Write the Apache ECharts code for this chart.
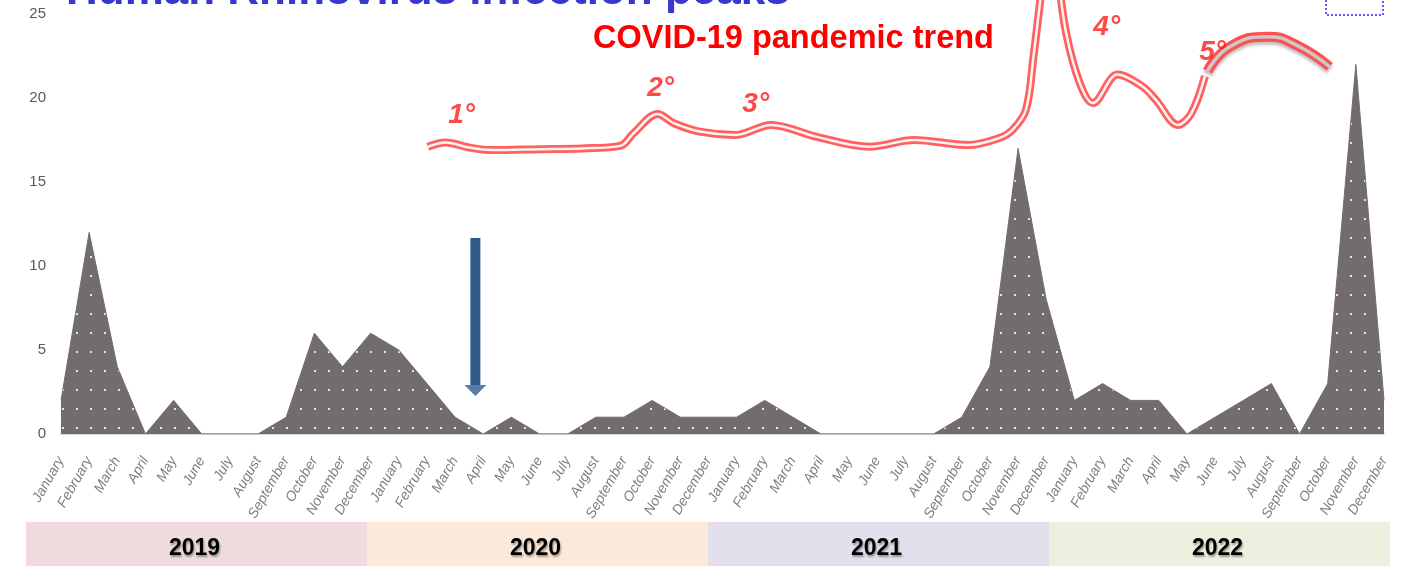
<!DOCTYPE html>
<html>
<head>
<meta charset="utf-8">
<script src="https://cdn.jsdelivr.net/npm/echarts@6/dist/echarts.min.js"></script>
<style>
  html, body { margin: 0; padding: 0; background: #fff; }
  #chart { width: 1401px; height: 566px; }
</style>
</head>
<body>
<div id="chart"></div>
<script>
var monthNames = ['January', 'February', 'March', 'April', 'May', 'June', 'July',
  'August', 'September', 'October', 'November', 'December'];
var years = ['2019', '2020', '2021', '2022'];
var yearColors = ['#efdbdb', '#fde9d9', '#e4dfec', '#ebf1de'];
var months = [];
years.forEach(function () { months = months.concat(monthNames); });

// monthly HRV infections, Jan 2019 .. Dec 2022
var hrvCases = [2, 12, 4, 0, 2, 0, 0, 0, 1, 6, 4, 6,
  5, 3, 1, 0, 1, 0, 0, 1, 1, 2, 1, 1,
  1, 2, 1, 0, 0, 0, 0, 0, 1, 4, 17, 8,
  2, 3, 2, 2, 0, 1, 2, 3, 0, 3, 22, 2];

// covid trend sketch, [month index, level]
var covidTrend = [[13.03, 17.1], [13.67, 17.35], [14.5, 17.05], [15.3, 16.9], [17, 16.95],
  [18.5, 17.0], [19.87, 17.15], [20.34, 17.9], [21.2, 19.05], [21.77, 18.5], [22.69, 18.0],
  [23.96, 17.8], [25.23, 18.4], [26.82, 17.7], [28.72, 17.1], [30.31, 17.5], [32.22, 17.2],
  [33.3, 17.6], [33.8, 18.1], [34.28, 19.3], [34.55, 22.5], [34.92, 27.5], [35.15, 29.5],
  [35.39, 27.5], [35.71, 23.85], [36.19, 20.9], [36.66, 19.7], [37.54, 21.4], [38.41, 20.7],
  [38.89, 19.9], [39.68, 18.4], [40.16, 19.1], [40.64, 21.3]];
var covidArc = [[40.73, 21.6], [41.52, 23.05], [42.88, 23.65], [43.89, 23.15], [45.07, 21.86]];

var waveLabels = ['1°', '2°', '3°', '4°', '5°'];
var wavePos = [[14.23, 19.0], [21.3, 20.6], [24.68, 19.6], [37.15, 24.2], [40.91, 22.75]];

var arrowX = 14.72;
var arrowTop = 11.67, arrowBase = 2.92, arrowHead = 2.59;

function dotPattern() {
  var c = document.createElement('canvas');
  c.width = 14;
  c.height = 19;
  var ctx = c.getContext('2d');
  ctx.fillStyle = '#726d6c';
  ctx.fillRect(0, 0, 14, 19);
  ctx.fillStyle = '#e4e4e4';
  ctx.fillRect(6, 9, 2, 2);
  return c;
}

var chart = echarts.init(document.getElementById('chart'), null, { renderer: 'canvas' });

var gLeft = 61, gRight = 17, gTop = 14, gBottom = 132;
var bandLeft = 26, bandTop = 522, bandWidth = 341;

var graphics = [];
years.forEach(function (y, i) {
  graphics.push({
    type: 'rect', z: 100,
    shape: { x: bandLeft + i * bandWidth, y: bandTop, width: bandWidth, height: 50 },
    style: { fill: yearColors[i] }
  });
  graphics.push({
    type: 'text', z: 101,
    x: bandLeft + i * bandWidth + bandWidth / 2 - 2, y: 549,
    style: {
      text: y, font: 'bold 23px "Liberation Sans", Arial, sans-serif', fill: '#000',
      textAlign: 'center', textVerticalAlign: 'middle',
      textShadowColor: 'rgba(0,0,0,0.35)', textShadowBlur: 2, textShadowOffsetX: 1, textShadowOffsetY: 2
    }
  });
});
graphics.push({
  type: 'text', z: 50, x: 66, y: 14,
  style: {
    text: 'Human Rhinovirus infection peaks', font: 'bold 44px "Liberation Sans", Arial, sans-serif',
    fill: '#3838cf', textAlign: 'left', textVerticalAlign: 'bottom'
  }
});
graphics.push({
  type: 'text', z: 50, x: 593, y: 39,
  style: {
    text: 'COVID-19 pandemic trend', font: 'bold 32.5px "Liberation Sans", Arial, sans-serif',
    fill: '#ff0000', textAlign: 'left', textVerticalAlign: 'middle'
  }
});
graphics.push({
  type: 'rect', z: 50,
  shape: { x: 1326, y: -2, width: 57, height: 17 },
  style: { fill: 'none', stroke: '#2a2aff', lineWidth: 1.5, lineDash: [2, 2] }
});

var option = {
  backgroundColor: '#ffffff',
  animation: false,
  grid: { left: gLeft, right: gRight, top: gTop, bottom: gBottom },
  xAxis: [{
    type: 'category',
    data: months,
    boundaryGap: false,
    axisLine: { lineStyle: { color: '#d9d9d9', width: 2 } },
    axisTick: { show: false },
    axisLabel: {
      interval: 0, rotate: 60, margin: 24,
      fontStyle: 'italic', fontSize: 14, color: '#7f7f7f',
      fontFamily: '"Liberation Sans Narrow", "Liberation Sans", Arial, sans-serif'
    }
  }, {
    type: 'value', min: 0, max: 47, show: false
  }],
  yAxis: {
    type: 'value', min: 0, max: 25, interval: 5,
    axisLine: { show: false },
    axisTick: { show: false },
    splitLine: { show: false },
    axisLabel: { color: '#595959', fontSize: 15, margin: 15, fontFamily: '"Liberation Sans Narrow", "Liberation Sans", Arial, sans-serif' }
  },
  series: [{
    name: 'HRV',
    type: 'line',
    data: hrvCases,
    symbol: 'none',
    lineStyle: { color: '#726d6c', width: 1 },
    areaStyle: { color: { image: dotPattern(), repeat: 'repeat' }, opacity: 1 },
    z: 2
  }, {
    type: 'line', xAxisIndex: 1, data: covidTrend, smooth: 0.35, symbol: 'none', clip: false,
    lineStyle: { color: '#ff4545', width: 8, opacity: 0.85 }, z: 3
  }, {
    type: 'line', xAxisIndex: 1, data: covidTrend, smooth: 0.35, symbol: 'none', clip: false,
    lineStyle: { color: '#fff2f2', width: 2.5 }, z: 4
  }, {
    type: 'line', xAxisIndex: 1, data: covidArc, smooth: 0.5, symbol: 'none', clip: false,
    lineStyle: {
      color: '#ff5050', width: 10,
      shadowColor: 'rgba(0,0,0,0.25)', shadowBlur: 3, shadowOffsetY: 3
    }, z: 3
  }, {
    type: 'line', xAxisIndex: 1, data: covidArc, smooth: 0.5, symbol: 'none', clip: false,
    lineStyle: { color: '#cacaca', width: 3.5 }, z: 4
  }, {
    type: 'line', xAxisIndex: 1, data: [[arrowX, arrowTop], [arrowX, arrowBase]], symbol: 'none',
    lineStyle: { color: '#2f5b8c', width: 10, cap: 'butt' }, z: 5
  }, {
    type: 'scatter', xAxisIndex: 1, data: [[arrowX, arrowHead]],
    symbol: 'triangle', symbolRotate: 180, symbolSize: [22, 11],
    itemStyle: { color: '#2f5b8c' }, z: 5
  }, {
    type: 'scatter', xAxisIndex: 1, symbolSize: 0, clip: false,
    data: wavePos.map(function (p, i) { return { value: p, name: waveLabels[i] }; }),
    label: {
      show: true, position: 'inside', formatter: '{b}',
      color: '#ff1a1a', fontSize: 28, fontWeight: 'bold', fontStyle: 'italic',
      fontFamily: '"Liberation Sans", Arial, sans-serif'
    },
    z: 6
  }],
  graphic: graphics
};
chart.setOption(option);
</script>
</body>
</html>
